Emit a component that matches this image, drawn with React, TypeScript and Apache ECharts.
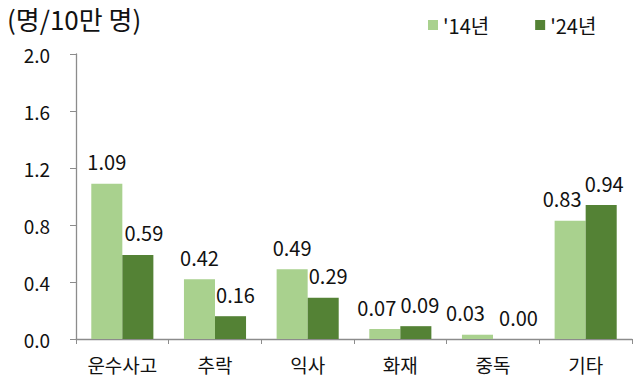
import React, { useEffect, useRef } from "react";
import * as echarts from "echarts";

const categories = ["운수사고", "추락", "익사", "화재", "중독", "기타"];
const series14 = [1.09, 0.42, 0.49, 0.07, 0.03, 0.83];
const series24 = [0.59, 0.16, 0.29, 0.09, 0.0, 0.94];
const seriesNames = ["'14년", "'24년"];

const FONT = "'Noto Sans CJK KR', 'Noto Sans', sans-serif";

export default function App() {
  const ref = useRef<HTMLDivElement>(null);
  useEffect(() => {
    if (!ref.current) return;
    const chart = echarts.init(ref.current, null, { renderer: "svg" });
    // horizontal nudges of the value labels (layout only), as in the reference
    const shift14 = [0, 0, 0, -8, -12, -8];
    const shift24 = [6, 5, 5, 4, 10, 3];
    const label = {
      show: true,
      position: "top",
      distance: 12,
      color: "#111",
      fontSize: 20,
      fontFamily: FONT,
      formatter: (p: any) => Number(p.value).toFixed(2),
    };
    const withShift = (vals: number[], shifts: number[]) =>
      vals.map((v, i) => ({ value: v, label: { offset: [shifts[i], 0] } }));
    chart.setOption({
      animation: false,
      textStyle: { fontFamily: FONT },
      graphic: [
        {
          type: "text",
          left: 7,
          top: 5,
          style: { text: "(명/10만 명)", fontSize: 26, fill: "#111", fontFamily: FONT },
        },
      ],
      legend: {
        top: 10,
        left: 423,
        itemWidth: 10,
        itemHeight: 10,
        itemGap: 46,
        icon: "rect",
        textStyle: { fontSize: 20, color: "#111", fontFamily: FONT },
        data: seriesNames,
      },
      grid: { left: 76, right: 5, top: 54, bottom: 39, containLabel: false },
      xAxis: {
        type: "category",
        data: categories,
        axisLine: { lineStyle: { color: "#8c8c8c", width: 1.3 } },
        axisTick: { show: true, alignWithLabel: false, length: 5, lineStyle: { color: "#8c8c8c" } },
        axisLabel: { fontSize: 19, color: "#111", margin: 16, fontFamily: FONT },
      },
      yAxis: {
        type: "value",
        min: 0,
        max: 2.0,
        interval: 0.4,
        axisLine: { show: true, lineStyle: { color: "#8c8c8c", width: 1.3 } },
        axisTick: { show: true, inside: false, length: 6, lineStyle: { color: "#8c8c8c" } },
        splitLine: { show: false },
        axisLabel: {
          fontSize: 19,
          color: "#111",
          margin: 26,
          fontFamily: FONT,
          formatter: (v: number) => v.toFixed(1),
        },
      },
      series: [
        {
          name: seriesNames[0],
          type: "bar",
          data: withShift(series14, shift14),
          barWidth: "33.5%",
          barGap: "0%",
          itemStyle: { color: "#A9D18E" },
          label,
        },
        {
          name: seriesNames[1],
          type: "bar",
          data: withShift(series24, shift24),
          barWidth: "33.5%",
          barGap: "0%",
          itemStyle: { color: "#548235" },
          label,
        },
      ],
    });
    return () => chart.dispose();
  }, []);
  return <div ref={ref} style={{ width: 637, height: 378, position: "absolute", left: 0, top: 0 }} />;
}
